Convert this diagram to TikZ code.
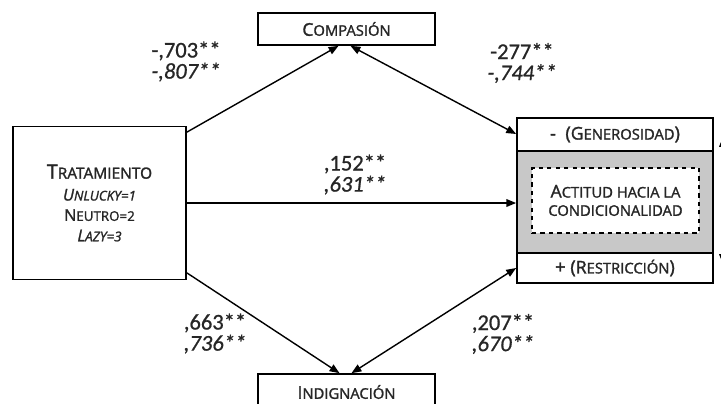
\documentclass[tikz,border=0pt]{standalone}
\usepackage{fontspec}
\setmainfont{Open Sans}[FakeBold=1.5]
\newfontfamily\numfont{Carlito}[FakeBold=0.8]
\usetikzlibrary{arrows.meta,calc}
\definecolor{panelgray}{RGB}{200,200,200}
% fake small caps: big first letter, smaller rest
\newcommand\fsc[2]{{\fontsize{12.5}{15}\selectfont #1}{\fontsize{10.5}{15}\selectfont #2}}
\newcommand\ssc[2]{{\fontsize{11.5}{14.5}\selectfont #1}{\fontsize{9.5}{14.5}\selectfont #2}}

\begin{document}
\begin{tikzpicture}[x=0.025cm,y=-0.025cm,
  box/.style={draw,line width=1.2pt,inner sep=0pt,fill=white,align=center,text=black!85},
  conn/.style={line width=1pt,-{Triangle[length=7pt,width=5.5pt]}},
  both/.style={line width=1pt,{Triangle[length=7pt,width=5.5pt]}-{Triangle[length=7pt,width=5.5pt]}},
  coef/.style={font=\numfont\fontsize{16}{15}\selectfont,align=center,text=black!85}]
  \useasboundingbox (0,0) rectangle (721,403);

  \node[box,minimum width=4.325cm,minimum height=3.825cm,font=\fontsize{9.5}{14.5}\selectfont] (trat) at (99.5,203)
    {{\fontsize{14}{20}\selectfont T}{\fontsize{11}{20}\selectfont RATAMIENTO}\\[1pt]
     \textit{\ssc{U}{NLUCKY=1}}\\ \ssc{N}{EUTRO=2}\\ \textit{\ssc{L}{AZY=3}}};
  \node[box,minimum width=4.425cm,minimum height=0.8cm] (comp) at (346.5,29) {\fsc{C}{OMPASIÓN}};
  \node[box,minimum width=4.425cm,minimum height=0.9cm] (ind) at (346.5,392) {\fsc{I}{NDIGNACIÓN}};

  \node[box,minimum width=4.9cm,minimum height=0.825cm] (gen) at (615,134.5)
    {{\fontsize{13}{15}\selectfont -\ \ (}\fsc{G}{ENEROSIDAD}{\fontsize{13}{15}\selectfont )}};
  \node[box,fill=panelgray,minimum width=4.9cm,minimum height=2.55cm] (act) at (615,202) {};
  \node[box,minimum width=4.9cm,minimum height=0.75cm] (res) at (615,268)
    {{\fontsize{13}{15}\selectfont + (}\fsc{R}{ESTRICCIÓN}{\fontsize{13}{15}\selectfont )}};
  \node[box,dashed,line width=1.1pt,minimum width=4.175cm,minimum height=1.625cm] (actlbl) at (615.5,200.5)
    {\fsc{A}{CTITUD HACIA LA}\\[1pt] {\fontsize{10.5}{15}\selectfont CONDICIONALIDAD}};

  \draw[conn] ($(trat.north east)+(0,6.5)$) -- ($(comp.south)+(-8,0)$);
  \draw[both] ($(comp.south)+(4,0)$) -- ($(gen.west)+(0,-0.5)$);
  \draw[conn] (trat.east) -- (trat.east -| act.west);
  \draw[conn] ($(trat.south east)+(0,-7.5)$) -- ($(ind.north)+(-7,0)$);
  \draw[both] ($(ind.north)+(5,0)$) -- (res.west);

  % cut-off arrow on the right edge
  \coordinate (brtop) at (723,137);
  \coordinate (brbot) at (723,264);
  \draw[both,line width=0.6pt] (brtop) -- (brbot);

  \node[coef] (c1) at (186,61.5) {-,703**\\\textit{-,807**}};
  \node[coef] (c2) at (522,63) {-277**\\\textit{-,744**}};
  \node[coef] (c3) at (355,174.5) {,152**\\\textit{,631**}};
  \node[coef] (c4) at (215,333.5) {,663**\\\textit{,736**}};
  \node[coef] (c5) at (503,334) {,207**\\\textit{,670**}};
\end{tikzpicture}
\end{document}
